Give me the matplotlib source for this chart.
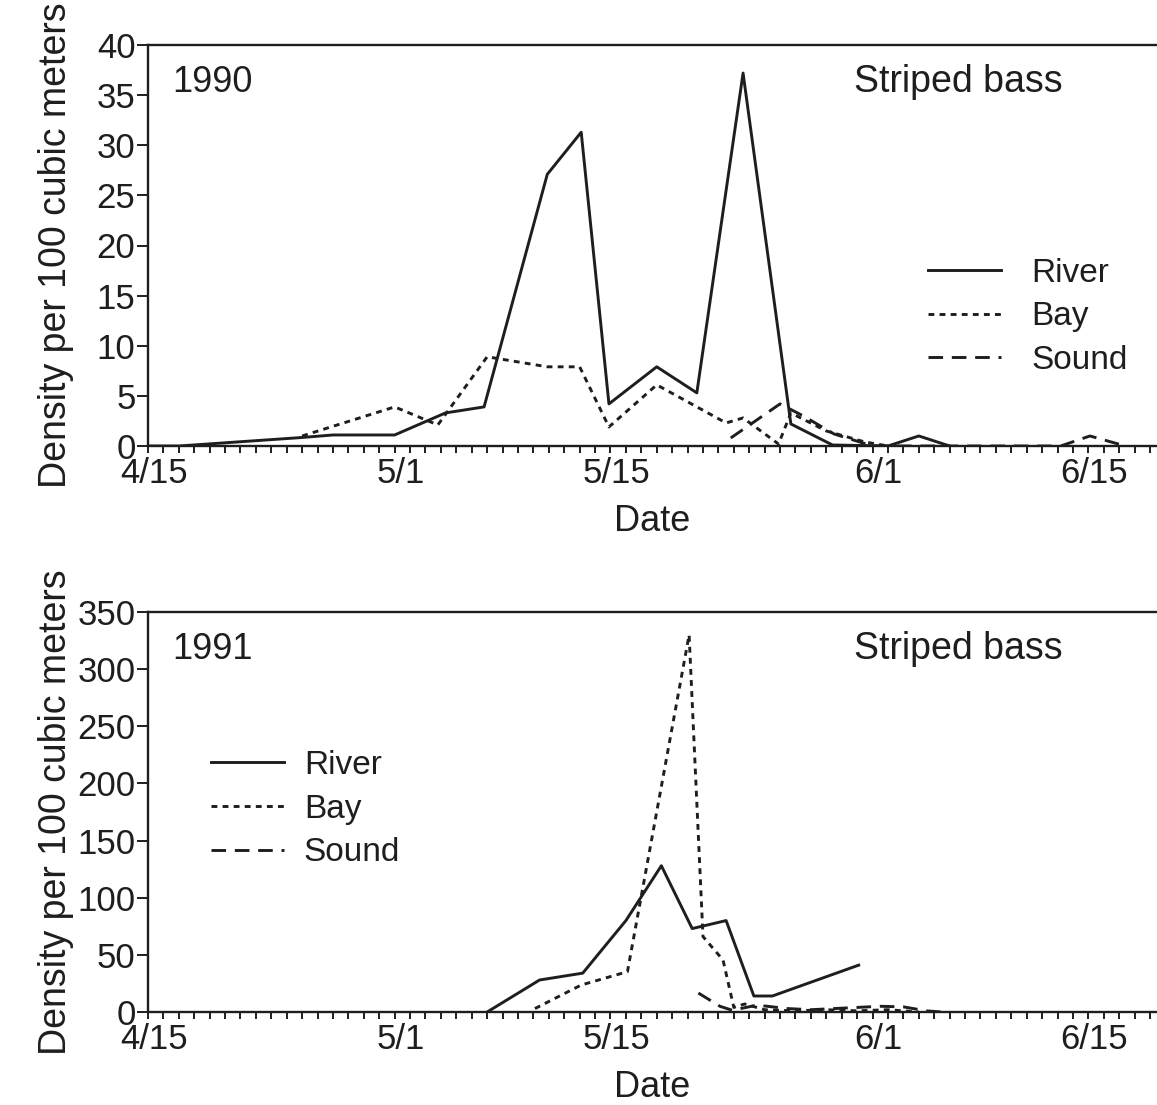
import matplotlib
matplotlib.use("Agg")
import matplotlib.pyplot as plt
import matplotlib.transforms as mtransforms
from matplotlib.ticker import FixedLocator, MultipleLocator

plt.rcParams['font.family'] = ['Liberation Sans', 'DejaVu Sans']

# Day offsets counted from 4/15
tick_days = [0, 16, 30, 47, 61]
tick_labels = ["4/15", "5/1", "5/15", "6/1", "6/15"]

# ---- 1990 ----
river90_day = [0, 2, 10, 12, 16, 19.3, 21.8, 25.9, 28.1, 29.9, 33.0, 35.6, 38.6, 41.7, 44.4, 48.0, 50.0, 52.0]
river90_val = [0, 0, 0.85, 1.1, 1.1, 3.3, 3.9, 27.1, 31.3, 4.2, 7.9, 5.3, 37.2, 2.2, 0.1, 0, 1.0, 0]
bay90_day = [10, 16, 18.8, 22.0, 25.9, 28.0, 29.9, 33.0, 37.5, 38.6, 40.9, 41.7, 44.0, 46.5, 48.0]
bay90_val = [1.0, 3.9, 2.1, 8.9, 7.9, 7.9, 1.9, 6.1, 2.3, 2.8, 0.2, 3.3, 1.5, 0.4, 0]
sound90_day = [37.8, 41.0, 42.5, 44.5, 47.0, 59.2, 61.1, 63.4]
sound90_val = [0.8, 4.2, 3.0, 1.2, 0, 0, 1.0, 0]

# ---- 1991 ----
river91_day = [22.0, 25.4, 28.2, 31.0, 33.3, 35.3, 37.5, 39.3, 40.5, 46.1]
river91_val = [0, 28, 34, 80, 128, 73, 80, 14, 14, 41]
bay91_day = [25.1, 28.1, 31.1, 35.1, 36.0, 37.3, 38.0, 38.7, 40.0, 42.0, 44.0, 46.0, 48.0, 50.0]
bay91_val = [3, 23.6, 35.3, 330, 66, 45.5, 4, 7, 2, 1, 2, 1, 2, 0]
sound91_day = [35.7, 37.1, 37.9, 39.5, 41.5, 43.0, 44.5, 46.0, 47.5, 49.0, 50.5, 51.5]
sound91_val = [16.6, 5, 1.5, 6, 3, 2, 3, 4, 5, 4.5, 1, 0]

W, H = 1157, 1105
fig = plt.figure(figsize=(W / 100, H / 100), dpi=100)

ink = '#1e1e1e'
lw = 2.1
styles = {
    'River': dict(color=ink, lw=lw, linestyle='-'),
    'Bay': dict(color=ink, lw=lw, linestyle=(0, (2.0, 1.8))),
    'Sound': dict(color=ink, lw=lw, linestyle=(0, (5.0, 3.0))),
}

def make_axes(top_px, bottom_px):
    left = 148 / W
    return fig.add_axes([left, 1 - bottom_px / H, 1 - left, (bottom_px - top_px) / H])

def style_axes(ax, ymax, ystep, year, legend_anchor, textpad):
    ax.set_xlim(0, 65.45)
    ax.set_ylim(0, ymax)
    ax.spines['right'].set_visible(False)
    for s in ['left', 'top', 'bottom']:
        ax.spines[s].set_linewidth(1.7)
        ax.spines[s].set_color(ink)
    ax.xaxis.set_major_locator(FixedLocator(tick_days))
    ax.set_xticklabels(tick_labels)
    ax.xaxis.set_minor_locator(MultipleLocator(1))
    ax.yaxis.set_major_locator(MultipleLocator(ystep))
    ax.tick_params(axis='x', which='both', direction='out', length=5, width=1.4,
                   color=ink, labelsize=25, pad=3, labelcolor=ink)
    ax.tick_params(axis='y', which='major', direction='out', length=8, width=1.4,
                   color=ink, labelsize=25, pad=1, labelcolor=ink)
    offset = mtransforms.ScaledTranslation(6 / 100, 0, fig.dpi_scale_trans)
    for lab in ax.get_xticklabels():
        lab.set_transform(lab.get_transform() + offset)
    ax.set_xlabel('Date', fontsize=26, color=ink, labelpad=10)
    ax.set_ylabel('Density per 100 cubic meters', fontsize=27, color=ink)
    ax.yaxis.set_label_coords(-0.073, 0.5)
    ax.text(0.024, 0.95, year, transform=ax.transAxes, fontsize=26, color=ink,
            va='top', ha='left')
    ax.text(0.70, 0.952, 'Striped bass', transform=ax.transAxes, fontsize=27,
            color=ink, va='top', ha='left')
    leg = ax.legend(loc='upper left', bbox_to_anchor=legend_anchor, frameon=False,
                    fontsize=24, handlelength=2.2, handletextpad=textpad,
                    labelspacing=0.38, borderpad=0, borderaxespad=0)
    for t in leg.get_texts():
        t.set_color(ink)

ax1 = make_axes(45, 446)
ax1.plot(river90_day, river90_val, label='River', **styles['River'])
ax1.plot(bay90_day, bay90_val, label='Bay', **styles['Bay'])
ax1.plot(sound90_day, sound90_val, label='Sound', **styles['Sound'])
style_axes(ax1, 40, 5, '1990', (0.773, 0.47), 0.9)

ax2 = make_axes(612, 1012)
ax2.plot(river91_day, river91_val, label='River', **styles['River'])
ax2.plot(bay91_day, bay91_val, label='Bay', **styles['Bay'])
ax2.plot(sound91_day, sound91_val, label='Sound', **styles['Sound'])
style_axes(ax2, 350, 50, '1991', (0.062, 0.655), 0.6)

fig.savefig('out.png', dpi=100, facecolor='white')
